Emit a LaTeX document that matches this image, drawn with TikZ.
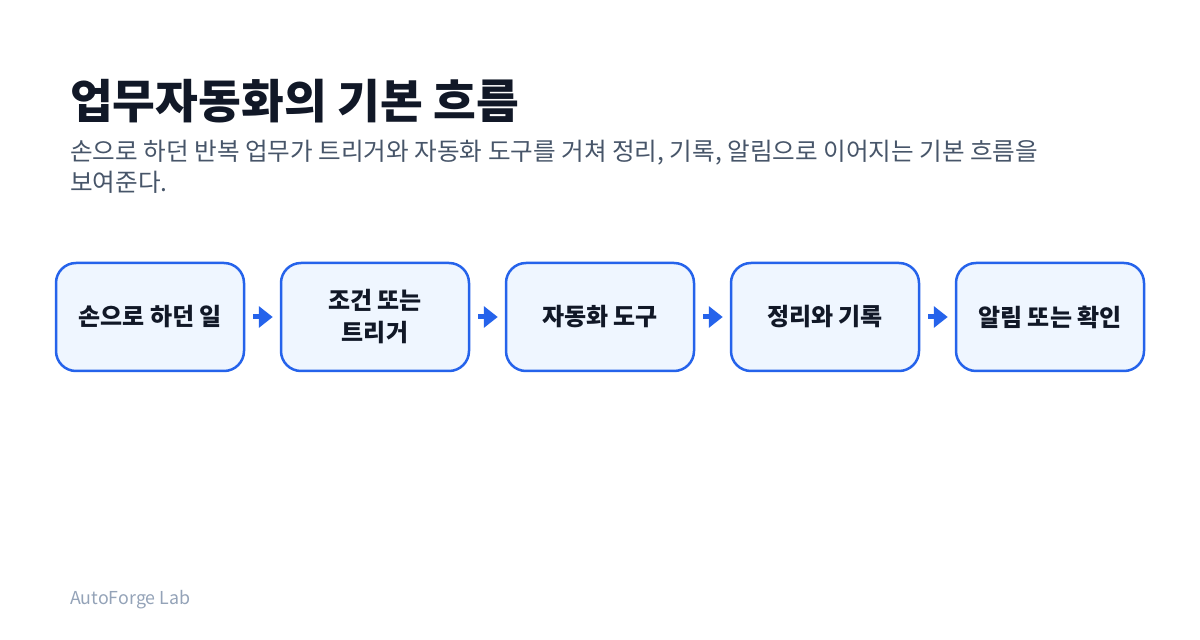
\documentclass[tikz,border=0pt]{standalone}
\usepackage{fontspec}
\setmainfont{Noto Sans CJK KR}
\usetikzlibrary{arrows.meta,calc}
\definecolor{titlec}{HTML}{111827}
\definecolor{subc}{HTML}{475569}
\definecolor{footc}{HTML}{94A3B8}
\definecolor{bordc}{HTML}{2563EB}
\definecolor{fillc}{HTML}{EFF6FF}
\tikzset{
  stepbox/.style={draw=bordc, fill=fillc, line width=2.5pt, rounded corners=20pt,
    minimum width=188pt, minimum height=108pt, inner sep=0pt, align=center,
    font=\fontsize{24}{32}\selectfont\bfseries, text=titlec},
  flow/.style={draw=bordc, line width=5pt, -{Triangle[length=14pt,width=21pt]}}
}
\begin{document}
\begin{tikzpicture}[x=1pt,y=1pt]
\useasboundingbox (0,0) rectangle (1200,640);
\fill[white] (0,0) rectangle (1200,640);
\node[anchor=base west, inner sep=0pt, text=titlec, font=\fontsize{46.5}{54}\selectfont\bfseries] (title) at (70,640-119) {업무자동화의 기본 흐름};
\node[anchor=base west, inner sep=0pt, text=subc, align=left, font=\fontsize{24.6}{31}\selectfont] (sub) at (70,640-192) {손으로 하던 반복 업무가 트리거와 자동화 도구를 거쳐 정리, 기록, 알림으로 이어지는 기본 흐름을\\보여준다.};
\node[stepbox] (b1) at (150,640-317) {손으로 하던 일};
\node[stepbox] (b2) at (375,640-317) {조건 또는\\트리거};
\node[stepbox] (b3) at (600,640-317) {자동화 도구};
\node[stepbox] (b4) at (825,640-317) {정리와 기록};
\node[stepbox] (b5) at (1050,640-317) {알림 또는 확인};
\foreach \a/\b in {b1/b2,b2/b3,b3/b4,b4/b5}{
  \draw[flow] ($(\a.east)+(8,0)$) -- ($(\b.west)+(-7,0)$);
}
\node[anchor=base west, inner sep=0pt, text=footc, font=\fontsize{17.8}{20}\selectfont] (foot) at (70,640-605) {AutoForge Lab};
\end{tikzpicture}
\end{document}
